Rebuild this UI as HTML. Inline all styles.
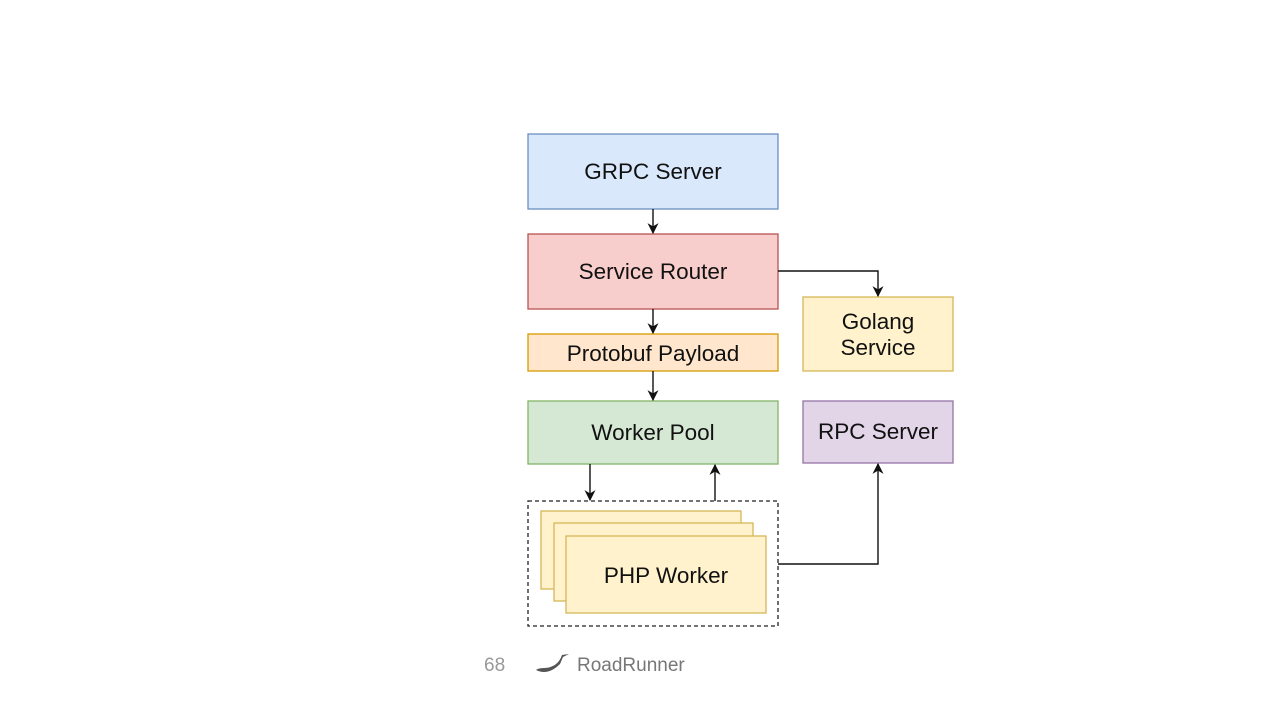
<!DOCTYPE html>
<html><head><meta charset="utf-8"><style>
html,body{margin:0;padding:0;background:#fff;width:1280px;height:720px;overflow:hidden}
svg{display:block}
text{font-family:"Liberation Sans",Arial,sans-serif}
</style></head><body>
<svg width="1280" height="720" viewBox="0 0 1280 720">
<defs><marker id="a" viewBox="0 0 10 10" refX="9" refY="5" markerWidth="11" markerHeight="11" orient="auto" markerUnits="userSpaceOnUse"><path d="M0,0 L10,5 L0,10 L3,5 z" fill="#111"/></marker></defs>
<g stroke-width="1.3">
<rect x="528" y="134" width="250" height="75" fill="#dae8fc" stroke="#6c8ebf"/>
<rect x="528" y="234" width="250" height="75" fill="#f8cecc" stroke="#b85450"/>
<rect x="528" y="334" width="250" height="37" fill="#ffe6cc" stroke="#d79b00"/>
<rect x="528" y="401" width="250" height="63" fill="#d5e8d4" stroke="#82b366"/>
<rect x="803" y="297" width="150" height="74" fill="#fff2cc" stroke="#d6b656"/>
<rect x="803" y="401" width="150" height="62" fill="#e1d5e7" stroke="#9673a6"/>
<rect x="528" y="501" width="250" height="125" fill="none" stroke="#222" stroke-dasharray="4,3"/>
<rect x="541" y="511" width="200" height="78" fill="#fff2cc" stroke="#d6b656"/>
<rect x="554" y="523" width="199" height="78" fill="#fff2cc" stroke="#d6b656"/>
<rect x="566" y="536" width="200" height="77" fill="#fff2cc" stroke="#d6b656"/>
</g>
<g stroke="#111" stroke-width="1.4" fill="none" marker-end="url(#a)">
<path d="M653 209 V233"/>
<path d="M653 309 V333"/>
<path d="M653 371 V400"/>
<path d="M778 271 H878 V296"/>
<path d="M590 464 V500"/>
<path d="M715 501 V465"/>
<path d="M778 564 H878 V464"/>
</g>
<g font-size="22.5" fill="#111" text-anchor="middle">
<text x="653" y="179">GRPC Server</text>
<text x="653" y="279">Service Router</text>
<text x="653" y="361">Protobuf Payload</text>
<text x="653" y="440">Worker Pool</text>
<text x="878" y="329">Golang</text>
<text x="878" y="355">Service</text>
<text x="878" y="439">RPC Server</text>
<text x="666" y="583">PHP Worker</text>
</g>
<text x="484" y="671" font-size="19" fill="#999">68</text>
<path d="M536 670 Q548 676 560 664 L563 657 L569 654 L562 655 Q558 667 545 668 Q538 668 536 670 z" fill="#555"/>
<text x="577" y="671" font-size="19" fill="#777">RoadRunner</text>
</svg>
</body></html>
